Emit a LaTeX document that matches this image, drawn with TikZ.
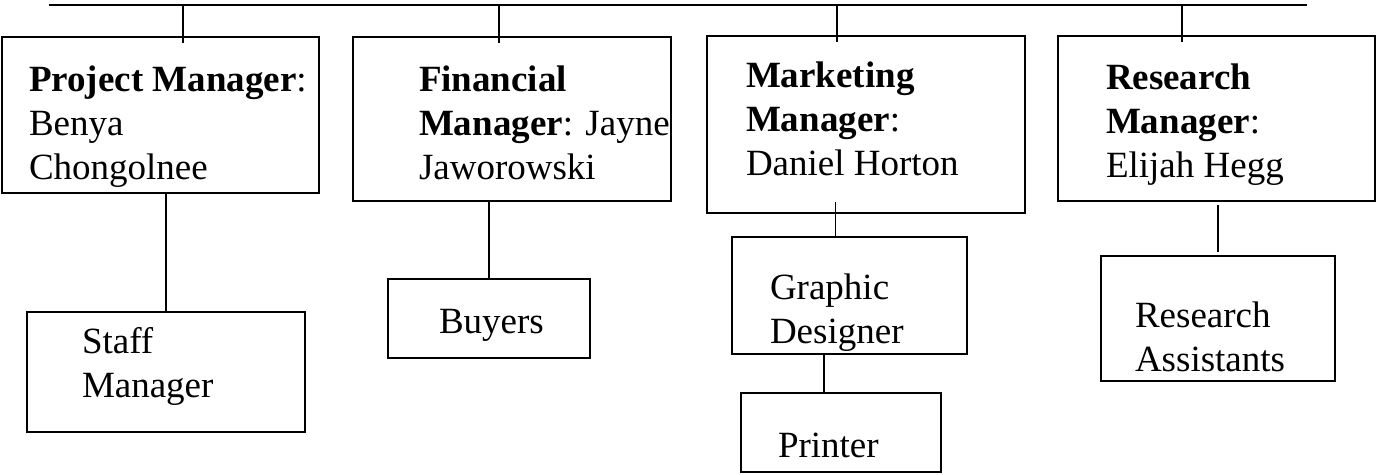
\documentclass[tikz,border=0pt]{standalone}
\usepackage{fontspec}
\setmainfont{Liberation Serif}
\usepackage{tikz}
\usetikzlibrary{calc}
\usetikzlibrary{positioning}

\begin{document}
\begin{tikzpicture}[-,x=0.5pt,y=-0.5pt,line width=1pt]
	\tikzstyle{post}=[draw, rectangle, anchor=north west, inner sep=0pt, outer sep=0pt]
	\tikzstyle{lbl}=[anchor=base west, align=left, inner sep=0pt, font=\fontsize{18.5}{22}\selectfont]
	\tikzstyle{link}=[line width=0.8pt]
	\useasboundingbox (0,0) rectangle (1377,475);
		\node[post, minimum width=158.5pt, minimum height=78pt]   (pm) at (2,37)    {};
		\node[post, minimum width=159pt, minimum height=82pt]     (fm) at (353,37)  {};
		\node[post, minimum width=159pt, minimum height=88.5pt]   (mm) at (707,36)  {};
		\node[post, minimum width=158.5pt, minimum height=82.5pt] (rm) at (1058,36) {};
		\node[post, minimum width=139pt, minimum height=60pt]     (sm) at (27,312)  {};
		\node[post, minimum width=101pt, minimum height=39.5pt]   (by) at (388,279) {};
		\node[post, minimum width=117.5pt, minimum height=58.5pt] (gd) at (732,237) {};
		\node[post, minimum width=100pt, minimum height=39.5pt]   (pr) at (741,393) {};
		\node[post, minimum width=117pt, minimum height=62.5pt]   (ra) at (1101,256) {};
		\node[lbl] (pmt) at (28,180)   {\textbf{Project Manager}:\\Benya\\Chongolnee};
		\node[lbl] (fmt) at (418,180)  {\textbf{Financial}\\\textbf{Manager}: Jayne\\Jaworowski};
		\node[lbl] (mmt) at (745,176)  {\textbf{Marketing}\\\textbf{Manager}:\\Daniel Horton};
		\node[lbl] (rmt) at (1105,178) {\textbf{Research}\\\textbf{Manager}:\\Elijah Hegg};
		\node[lbl] (smt) at (81,398)   {Staff\\Manager};
		\node[lbl] (byt) at (438,334)  {Buyers};
		\node[lbl] (gdt) at (769,344)  {Graphic\\Designer};
		\node[lbl] (prt) at (777,458)  {Printer};
		\node[lbl] (rat) at (1134,372) {Research\\Assistants};
		\coordinate (bl) at (49,5);
		\coordinate (br) at (1307,5);
		\coordinate (t1) at (183,5);
		\coordinate (t2) at (499,5);
		\coordinate (t3) at (837,5);
		\coordinate (t4) at (1182,5);
		\coordinate (gdin) at ($(gd.north west)!0.44!(gd.north east)$);
		\coordinate (prin) at ($(pr.north west)!0.415!(pr.north east)$);
	\draw (bl) -- (br);
	\draw[shorten >=-3pt] (t1) -- (t1 |- pm.north);
	\draw[shorten >=-3pt] (t2) -- (t2 |- fm.north);
	\draw[shorten >=-3pt] (t3) -- (t3 |- mm.north);
	\draw[shorten >=-3pt] (t4) -- (t4 |- rm.north);
	\draw[link] (sm.north) -- (sm.north |- pm.south);
	\draw[link] (by.north) -- (by.north |- fm.south);
	\draw[link, shorten >=-5.5pt] (gdin) -- (gdin |- mm.south);
	\draw[link] (prin) -- (prin |- gd.south);
	\draw[link, shorten <=2pt, shorten >=2pt] (ra.north) -- (ra.north |- rm.south);
\end{tikzpicture}
\end{document}
